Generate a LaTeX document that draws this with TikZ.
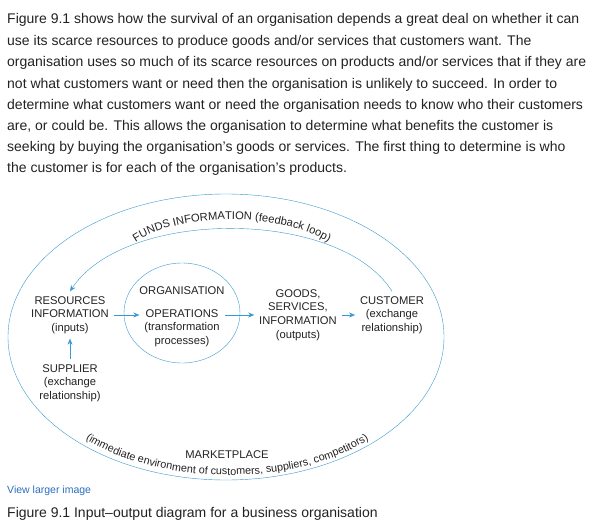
\documentclass[tikz,border=0pt]{standalone}
\usepackage{fontspec}
\setmainfont{Liberation Sans}
\usetikzlibrary{decorations.text,arrows.meta}
\definecolor{lineblue}{HTML}{3A9AD0}
\definecolor{linkblue}{HTML}{2A6EBB}
\definecolor{ink}{HTML}{222222}
\tikzset{
  body/.style={anchor=west,inner sep=0pt,font=\fontsize{14}{15}\selectfont,text=ink},
  lbl/.style={align=center,inner sep=0pt,outer sep=5pt,font=\fontsize{11.2}{13.6}\selectfont,text=ink},
  arr/.style={lineblue,-{Stealth[length=6pt,width=5pt]}}
}
\begin{document}
\begin{tikzpicture}[x=1pt,y=-1pt]
  \useasboundingbox (0,0) rectangle (610,530);
  %% paragraph
  \node[body] (p1) at (7,20) {Figure 9.1 shows how the survival of an organisation depends a great deal on whether it can};
  \node[body] (p2) at (7,42) {use its scarce resources to produce goods and/or services that customers want. The};
  \node[body] (p3) at (7,63) {organisation uses so much of its scarce resources on products and/or services that if they are};
  \node[body] (p4) at (7,85) {not what customers want or need then the organisation is unlikely to succeed. In order to};
  \node[body] (p5) at (7,106) {determine what customers want or need the organisation needs to know who their customers};
  \node[body] (p6) at (7,127) {are, or could be. This allows the organisation to determine what benefits the customer is};
  \node[body] (p7) at (7,148) {seeking by buying the organisation's goods or services. The first thing to determine is who};
  \node[body] (p8) at (7,169) {the customer is for each of the organisation's products.};

  %% marketplace and organisation
  \draw[lineblue] (226,337) ellipse [x radius=218,y radius=143];
  \draw[lineblue] (182,313) ellipse [x radius=58,y radius=50];

  %% labels
  \node[lbl] (res) at (70,315) {RESOURCES\\INFORMATION\\(inputs)};
  \node[lbl] (org) at (182,291) {ORGANISATION};
  \node[lbl] (ops) at (182,328) {OPERATIONS\\(transformation\\processes)};
  \node[lbl] (goods) at (298,315) {GOODS,\\SERVICES,\\INFORMATION\\(outputs)};
  \node[lbl] (cust) at (392,315) {CUSTOMER\\(exchange\\relationship)};
  \node[lbl] (sup) at (70,383) {SUPPLIER\\(exchange\\relationship)};
  \node[lbl] (mkt) at (227,455) {MARKETPLACE};

  %% flows
  \draw[arr] (res.east |- 0,315) -- (ops.west |- 0,315);
  \draw[arr] (ops.east |- 0,315) -- (goods.west |- 0,315);
  \draw[arr] (goods.east |- 0,315) -- (cust.west |- 0,315);
  \draw[arr] (sup) -- (res);
  \draw[arr] (cust.north) .. controls (340,208) and (125,208) .. (res.north);

  %% curved texts
  \path[decorate,decoration={text along path,text align=center,
    text={|\fontsize{11.2}{13}\selectfont\color{ink}|FUNDS INFORMATION (feedback loop)}}]
    (128,248) .. controls (170,210) and (290,210) .. (336,248);
  \path[decorate,decoration={text along path,text align=center,
    text={|\fontsize{10.8}{13}\selectfont\color{ink}|(immediate environment of customers, suppliers, competitors)}}]
    (80,436) .. controls (160,488) and (300,488) .. (374,436);

  %% caption
  \node[body,font=\fontsize{10.5}{12}\selectfont,text=linkblue] (view) at (7,491) {View larger image};
  \node[body] (cap) at (7,514) {Figure 9.1 Input--output diagram for a business organisation};
\end{tikzpicture}
\end{document}
